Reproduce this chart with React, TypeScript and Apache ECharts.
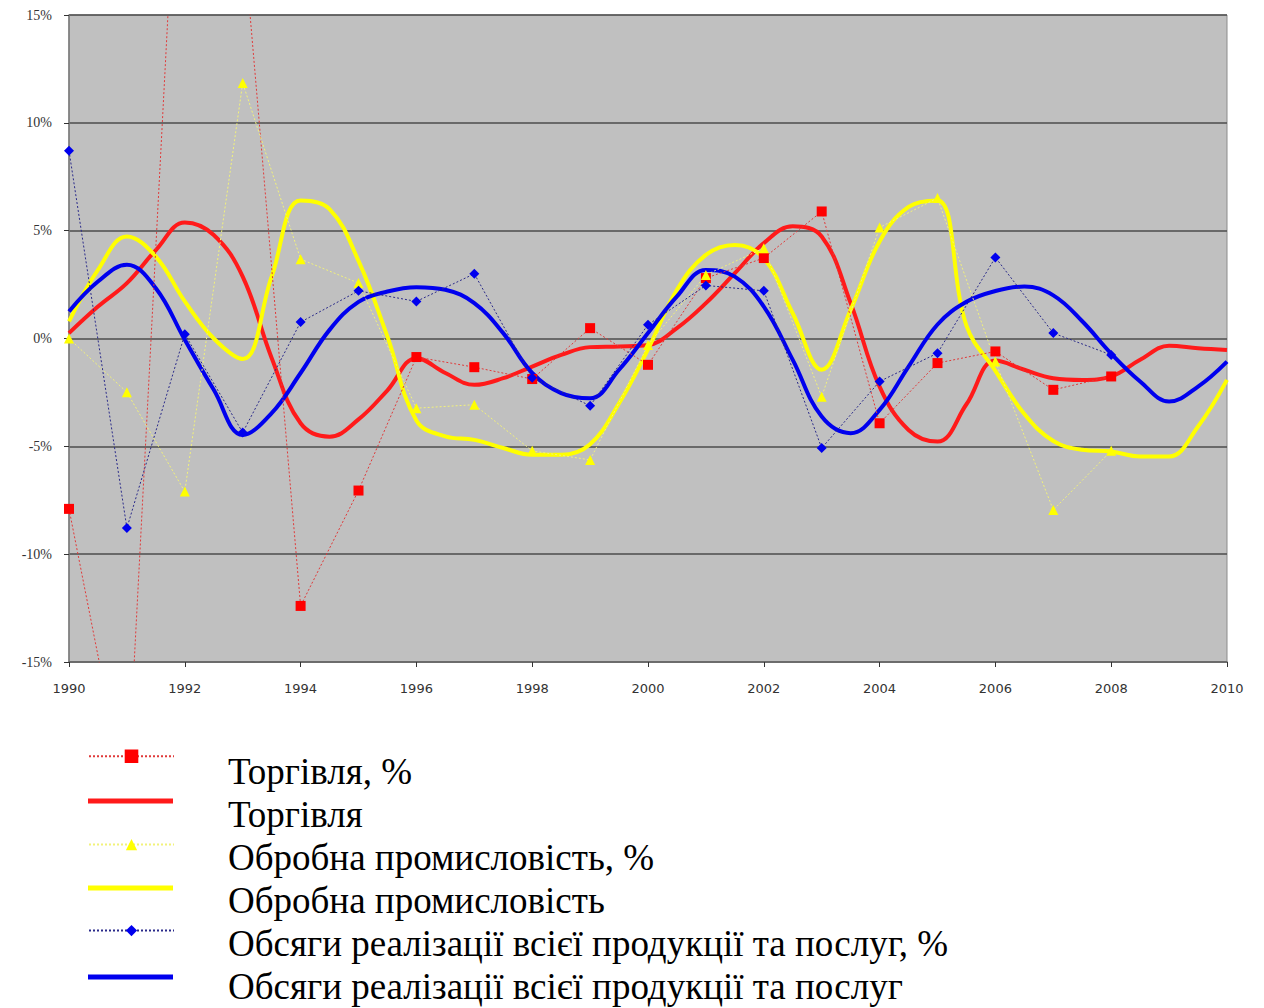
import React, { useEffect, useRef } from "react";
import * as echarts from "echarts";

// Yearly observations (1990–2008)
const pointYears = [1990, 1991, 1992, 1993, 1994, 1995, 1996, 1997, 1998, 1999, 2000, 2001, 2002, 2003, 2004, 2005, 2006, 2007, 2008];
const tradePct = [-7.9, -21.5, 30, 19, -12.4, -7.05, -0.86, -1.33, -1.88, 0.48, -1.22, 2.8, 3.73, 5.89, -3.93, -1.14, -0.6, -2.38, -1.76];
const manufPct = [0, -2.49, -7.1, 11.85, 3.68, 2.57, -3.23, -3.07, -5.21, -5.63, -0.3, 2.95, 4.19, -2.7, 5.15, 6.51, -1.07, -7.95, -5.21];
const salesPct = [8.71, -8.79, 0.2, -4.36, 0.76, 2.21, 1.72, 3.0, -1.82, -3.12, 0.64, 2.46, 2.21, -5.08, -1.99, -0.68, 3.76, 0.25, -0.76];

// Smoothed cycle curves, read every half year (1990–2010)
const trendYears = [1990, 1990.5, 1991, 1991.5, 1992, 1992.5, 1993, 1993.5, 1994, 1994.5, 1995, 1995.5, 1996, 1996.5, 1997, 1997.5, 1998, 1998.5, 1999, 1999.5, 2000, 2000.5, 2001, 2001.5, 2002, 2002.5, 2003, 2003.5, 2004, 2004.5, 2005, 2005.5, 2006, 2006.5, 2007, 2007.5, 2008, 2008.5, 2009, 2009.5, 2010];
const tradeTrend = [0.25, 1.48, 2.57, 4.1, 5.38, 4.8, 2.87, -0.9, -3.93, -4.55, -3.75, -2.4, -0.91, -1.6, -2.15, -1.84, -1.3, -0.76, -0.4, -0.37, -0.3, 0.48, 1.64, 3.03, 4.42, 5.2, 4.73, 1.64, -2.23, -4.24, -4.78, -3.05, -1.02, -1.45, -1.84, -1.92, -1.76, -0.99, -0.34, -0.45, -0.53];
const manufTrend = [0.79, 3.18, 4.73, 3.8, 1.72, 0.0, -0.95, 2.87, 6.4, 6.0, 3.6, 0.09, -3.8, -4.54, -4.7, -5.08, -5.39, -5.39, -4.9, -3.0, -0.5, 2.26, 3.88, 4.34, 3.72, 1.17, -1.45, 1.33, 4.5, 6.1, 6.4, 0.6, -1.5, -3.5, -4.75, -5.16, -5.24, -5.47, -5.47, -4.08, -1.92];
const salesTrend = [1.25, 2.64, 3.42, 2.33, -0.06, -2.38, -4.47, -3.46, -1.6, 0.4, 1.7, 2.18, 2.38, 2.26, 1.64, 0.25, -1.6, -2.53, -2.77, -1.45, 0.25, 1.95, 3.18, 2.87, 1.48, -0.99, -3.62, -4.39, -3.31, -1.3, 0.65, 1.7, 2.2, 2.41, 2.0, 0.8, -0.7, -1.99, -2.92, -2.23, -1.07];

const seriesNames = [
  "Торгівля, %",
  "Торгівля",
  "Обробна промисловість, %",
  "Обробна промисловість",
  "Обсяги реалізації всієї продукції та послуг, %",
  "Обсяги реалізації всієї продукції та послуг",
];

const legendIconCentersY = [758, 801, 846, 888, 932, 977];
const legendTextCentersY = [771, 814, 857, 900, 943, 986];

function pairs(xs: number[], ys: number[]) {
  return xs.map((x, i) => [x, ys[i]]);
}

export default function App() {
  const ref = useRef<HTMLDivElement>(null);

  useEffect(() => {
    if (!ref.current) return;
    const chart = echarts.init(ref.current, null, { renderer: "svg" });

    const dotted = (name: string, data: number[], color: string, lineColor: string, symbol: string, size: number) => ({
      name,
      type: "line",
      data: pairs(pointYears, data),
      symbol,
      symbolSize: size,
      showSymbol: true,
      z: 3,
      clip: true,
      itemStyle: { color, borderWidth: 0 },
      lineStyle: { color: lineColor, width: 1, type: [2, 2] },
      emphasis: { disabled: true },
    });
    const smooth = (name: string, data: number[], color: string) => ({
      name,
      type: "line",
      data: pairs(trendYears, data),
      smooth: 0.4,
      symbol: "none",
      showSymbol: false,
      z: 2,
      clip: true,
      itemStyle: { color },
      lineStyle: { color, width: 4 },
      emphasis: { disabled: true },
    });

    const legendHeights = [17, 5, 14, 5, 14, 5];
    const legends = seriesNames.map((name, i) => {
      const solid = i % 2 === 1;
      const h = legendHeights[i];
      return {
        data: solid ? [{ name, icon: "rect" }] : [name],
        orient: "vertical",
        left: 88,
        top: legendIconCentersY[i] - h / 2,
        padding: 0,
        itemWidth: 85,
        itemHeight: h,
        selectedMode: false,
        formatter: () => "",
        textStyle: { fontSize: 1, lineHeight: 1 },
      };
    });

    const legendTexts = seriesNames.map((name, i) => ({
      type: "text",
      x: 228,
      y: legendTextCentersY[i],
      silent: true,
      style: {
        text: name,
        fontFamily: "Liberation Serif",
        fontSize: 37,
        fill: "#000",
        verticalAlign: "middle",
        align: "left",
      },
    }));

    chart.setOption({
      animation: false,
      backgroundColor: "#ffffff",
      legend: legends,
      graphic: legendTexts,
      grid: {
        left: 69,
        top: 15,
        right: 37,
        bottom: 346,
        show: true,
        backgroundColor: "#c0c0c0",
        borderColor: "#8c8c8c",
        borderWidth: 1,
      },
      xAxis: {
        type: "value",
        min: 1990,
        max: 2010,
        interval: 2,
        splitLine: { show: false },
        axisLine: { show: true, onZero: false, lineStyle: { color: "#6e6e6e", width: 1.5 } },
        axisTick: { show: true, inside: false, length: 5, lineStyle: { color: "#333" } },
        axisLabel: {
          margin: 20,
          color: "#333",
          fontFamily: "DejaVu Sans",
          fontSize: 13,
          formatter: (v: number) => String(v),
        },
      },
      yAxis: {
        type: "value",
        min: -15,
        max: 15,
        interval: 5,
        splitLine: { show: true, lineStyle: { color: "#4d4d4d", width: 1.5 } },
        axisLine: { show: true, lineStyle: { color: "#7a7a7a", width: 1.5 } },
        axisTick: { show: true, inside: false, length: 5, lineStyle: { color: "#333" } },
        axisLabel: {
          margin: 17,
          color: "#333",
          fontFamily: "Liberation Serif",
          fontSize: 14,
          formatter: (v: number) => `${v}%`,
        },
      },
      series: [
        dotted(seriesNames[0], tradePct, "#ff0000", "#e03a3a", "rect", 10),
        smooth(seriesNames[1], tradeTrend, "#ff1a1a"),
        dotted(seriesNames[2], manufPct, "#ffff00", "#f2f27a", "triangle", 10),
        smooth(seriesNames[3], manufTrend, "#ffff00"),
        dotted(seriesNames[4], salesPct, "#0000ee", "#2a2a8a", "diamond", 10),
        smooth(seriesNames[5], salesTrend, "#0000ee"),
      ],
    });

    return () => chart.dispose();
  }, []);

  return (
    <div
      ref={ref}
      style={{ position: "absolute", left: 0, top: 0, width: 1264, height: 1008 }}
    />
  );
}
